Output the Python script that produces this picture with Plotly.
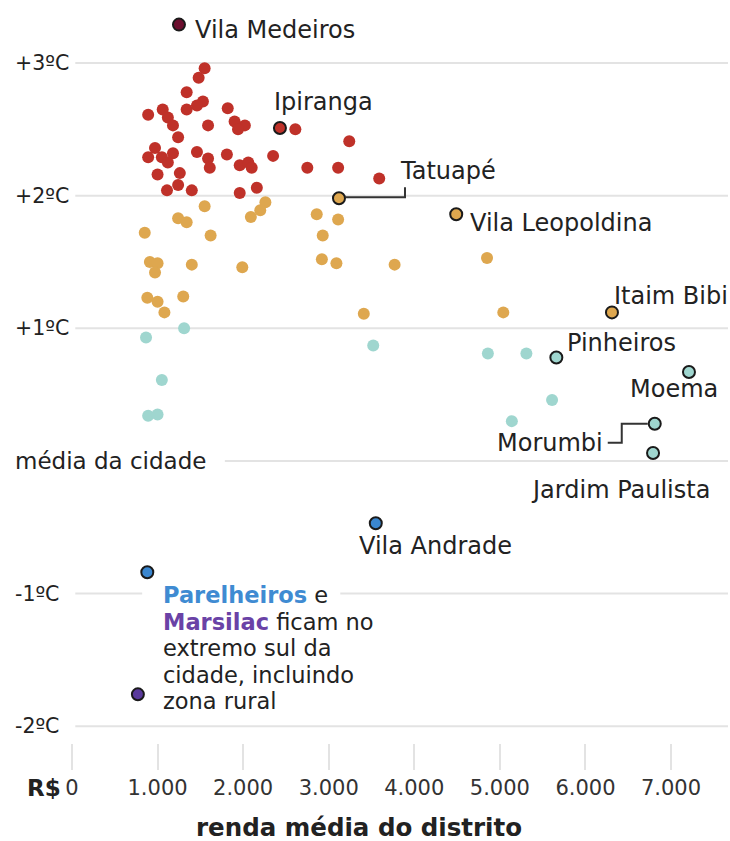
import plotly.graph_objects as go

# ---------------- data ----------------
red_income = [1550, 1480, 1340, 1530, 1340, 1460, 890, 1060, 1120, 1180, 1240, 1590, 1820,
              1900, 2020, 1940, 970, 890, 1050, 1180, 1120, 1000, 1260, 1110, 1240, 1400,
              1460, 1590, 1610, 1810, 1960, 2060, 1960, 2160, 2350, 2610, 3240, 2750, 3110,
              3590, 2100]
red_temp = [2.96, 2.89, 2.78, 2.71, 2.65, 2.68, 2.61, 2.65, 2.59, 2.53, 2.44, 2.53, 2.66,
            2.56, 2.53, 2.50, 2.36, 2.29, 2.29, 2.32, 2.25, 2.16, 2.17, 2.04, 2.08, 2.04,
            2.33, 2.28, 2.21, 2.31, 2.23, 2.25, 2.02, 2.06, 2.30, 2.50, 2.41, 2.21, 2.21,
            2.13, 2.21]

yellow_income = [1550, 1240, 1340, 850, 1620, 2260, 2200, 2090, 910, 1000, 970, 1400, 1990,
                 880, 1000, 1080, 1300, 2860, 3110, 2930, 2920, 3090, 3770, 4850, 3410, 5040]
yellow_temp = [1.92, 1.83, 1.80, 1.72, 1.70, 1.95, 1.89, 1.84, 1.50, 1.49, 1.42, 1.48, 1.46,
               1.23, 1.20, 1.12, 1.24, 1.86, 1.82, 1.70, 1.52, 1.49, 1.48, 1.53, 1.11, 1.12]

teal_income = [1310, 865, 1050, 890, 1000, 3520, 4860, 5310, 5610, 5140]
teal_temp = [1.00, 0.93, 0.61, 0.34, 0.35, 0.87, 0.81, 0.81, 0.46, 0.30]

hl_names = ["Vila Medeiros", "Ipiranga", "Tatuapé", "Vila Leopoldina", "Itaim Bibi",
            "Pinheiros", "Moema", "Morumbi", "Jardim Paulista", "Vila Andrade",
            "Parelheiros", "Marsilac"]
hl_income = [1250, 2430, 3120, 4490, 6310, 5660, 7210, 6810, 6790, 3550, 880, 770]
hl_temp = [3.29, 2.51, 1.98, 1.86, 1.12, 0.78, 0.67, 0.28, 0.06, -0.47, -0.84, -1.76]
hl_group = ["maroon", "red", "yellow", "yellow", "yellow", "teal", "teal", "teal", "teal",
            "blue", "blue", "purple"]

y_ticks = [3, 2, 1, 0, -1, -2]
y_tick_labels = ["+3ºC", "+2ºC", "+1ºC", "média da cidade", "-1ºC", "-2ºC"]
x_ticks = [0, 1000, 2000, 3000, 4000, 5000, 6000, 7000]
x_tick_labels = ["0", "1.000", "2.000", "3.000", "4.000", "5.000", "6.000", "7.000"]

note_lines = ["<b><span style='color:#3f8bd2'>Parelheiros</span></b> e",
              "<b><span style='color:#6a42a6'>Marsilac</span></b> ficam no",
              "extremo sul da",
              "cidade, incluindo",
              "zona rural"]

# ---------------- style ----------------
FONT = "DejaVu Sans"
TXT = "#222222"
GRID = "#e3e3e3"
COLORS = {"maroon": "#6c0e2e", "red": "#bf3129", "yellow": "#dea74f",
          "teal": "#9fd6cf", "blue": "#3a86cf", "purple": "#5a3a9c"}
DOT = 12
LABEL_SIZE = 24

# label placement: (xanchor, xshift, yshift)
label_pos = {
    "Vila Medeiros": ("left", 14, -5),
    "Ipiranga": ("left", -8, 26),
    "Tatuapé": ("left", 59, 27),
    "Vila Leopoldina": ("left", 12, -9),
    "Itaim Bibi": ("left", 0, 16),
    "Pinheiros": ("left", 9, 14),
    "Moema": ("center", -15, -17),
    "Morumbi": ("right", -50, -19),
    "Jardim Paulista": ("center", -33, -37),
    "Vila Andrade": ("left", -19, -23),
}

fig = go.Figure()

for xs, ys, c in [(red_income, red_temp, "red"), (yellow_income, yellow_temp, "yellow"),
                  (teal_income, teal_temp, "teal")]:
    fig.add_trace(go.Scatter(x=xs, y=ys, mode="markers", hoverinfo="skip",
                             marker=dict(size=DOT, color=COLORS[c], line=dict(width=0))))

fig.add_trace(go.Scatter(
    x=hl_income, y=hl_temp, mode="markers", text=hl_names, hoverinfo="text",
    marker=dict(size=DOT, color=[COLORS[g] for g in hl_group],
                line=dict(width=2, color="#1a1a1a"))))

# gridlines (paper x ranges)
grid_segments = {3: [(0.005, 1)], 2: [(0.005, 1)], 1: [(0.005, 1)], 0: [(0.233, 1)],
                 -1: [(0.005, 0.107), (0.409, 1)], -2: [(0.005, 1)]}
for yv in y_ticks:
    for a, b in grid_segments[yv]:
        fig.add_shape(type="line", xref="paper", yref="y", x0=a, x1=b, y0=yv, y1=yv,
                      line=dict(color=GRID, width=2), layer="below")

# y labels
for yv, lab in zip(y_ticks, y_tick_labels):
    fig.add_annotation(xref="paper", yref="y", x=0, y=yv, xshift=-59, text=lab,
                       showarrow=False, xanchor="left", yanchor="middle",
                       font=dict(family=FONT, size=20.5 if yv != 0 else 23, color=TXT))

# point labels
for n, xv, yv in zip(hl_names, hl_income, hl_temp):
    if n in label_pos:
        xa, xs, ys = label_pos[n]
        fig.add_annotation(x=xv, y=yv, text=n, showarrow=False, xanchor=xa,
                           yanchor="middle", xshift=xs, yshift=ys,
                           font=dict(family=FONT, size=LABEL_SIZE, color=TXT))

# Parelheiros / Marsilac note, one annotation per line
i_p = hl_names.index("Parelheiros")
for k, line in enumerate(note_lines):
    fig.add_annotation(x=hl_income[i_p], y=hl_temp[i_p], text=line, showarrow=False,
                       xanchor="left", yanchor="middle", align="left",
                       xshift=14, yshift=-23 - 26.5 * k,
                       font=dict(family=FONT, size=22.5, color=TXT))

# connectors
i_t = hl_names.index("Tatuapé")
fig.add_shape(type="path", xref="x", yref="y", xsizemode="pixel", ysizemode="pixel",
              xanchor=hl_income[i_t], yanchor=hl_temp[i_t],
              path="M 7 1 L 66 1 L 66 11", line=dict(color="#333333", width=2))
i_m = hl_names.index("Morumbi")
fig.add_shape(type="path", xref="x", yref="y", xsizemode="pixel", ysizemode="pixel",
              xanchor=hl_income[i_m], yanchor=hl_temp[i_m],
              path="M -47 -19 L -33 -19 L -33 0 L -7 0", line=dict(color="#333333", width=2))

# R$ and axis title
fig.add_annotation(xref="paper", yref="paper", x=0, y=0, xshift=-9, yshift=-45,
                   text="<b>R$</b>", showarrow=False, xanchor="right", yanchor="middle",
                   font=dict(family=FONT, size=23, color=TXT))
fig.add_annotation(xref="paper", yref="paper", x=0.4375, y=0, yshift=-84,
                   text="<b>renda média do distrito</b>", showarrow=False,
                   xanchor="center", yanchor="middle", borderpad=0,
                   font=dict(family=FONT, size=24.5, color=TXT))

fig.update_layout(
    width=730, height=841, margin=dict(l=72, r=2, t=10, b=98, autoexpand=False),
    paper_bgcolor="white", plot_bgcolor="white", showlegend=False,
    xaxis=dict(range=[0, 7666], tickvals=x_ticks, ticktext=x_tick_labels,
               ticks="outside", ticklen=26, tickwidth=2, tickcolor=GRID,
               showgrid=False, zeroline=False, showline=False, automargin=False,
               tickfont=dict(family=FONT, size=21, color="#333333")),
    yaxis=dict(range=[-2.127, 3.40], showticklabels=False, showgrid=False,
               zeroline=False, showline=False, ticks="", automargin=False),
)

fig.write_html("out.html", config={"displayModeBar": False},
               post_script="document.body.style.margin='0';document.body.style.overflow='hidden';")
